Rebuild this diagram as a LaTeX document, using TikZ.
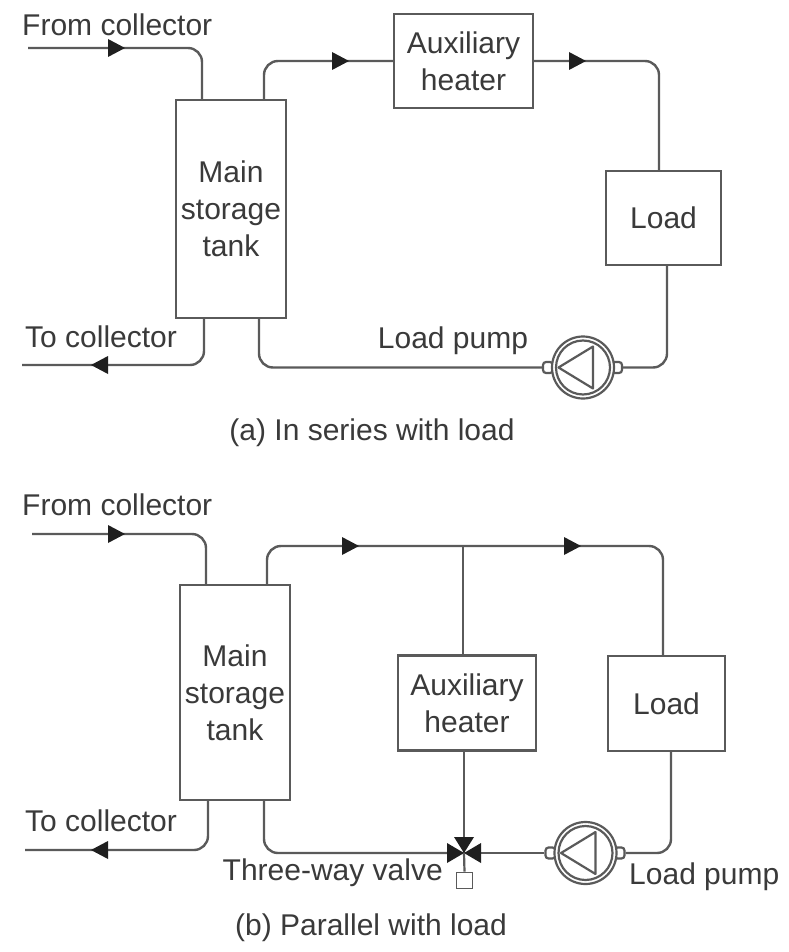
\documentclass[tikz,border=0pt]{standalone}
\usepackage{fontspec}
\setmainfont{Liberation Sans}
\definecolor{ink}{HTML}{3A3A3A}
\definecolor{pipecol}{HTML}{5A5A5A}
\tikzset{
  unit/.style={draw=pipecol,line width=2.4pt,fill=white,inner sep=0pt,align=center,text=ink,font=\fontsize{30}{37}\selectfont},
  pipe/.style={draw=pipecol,line width=2.4pt,rounded corners=14pt},
  lbl/.style={text=ink,inner sep=0pt,font=\fontsize{30}{36}\selectfont},
  flowtip/.style={fill=black!88},
  pumpline/.style={draw=pipecol,line width=2.2pt},
  nub/.style={pumpline,fill=white,rounded corners=3pt,minimum width=10pt,minimum height=11pt,inner sep=0pt},
}
\newcommand{\flowmark}[3]{\fill[flowtip,shift={(#1,#2)},rotate=#3] (9,0)--(-8,9)--(-8,-9)--cycle;}
\newcommand{\pumpsym}[3]{%
  \node[rectangle,nub] (#3l) at (#1-35,#2) {};
  \node[rectangle,nub] (#3r) at (#1+34,#2) {};
  \node[circle,pumpline,fill=white,minimum size=62pt,inner sep=0pt] (#3) at (#1,#2) {};
  \draw[pumpline] (#1,#2) circle[radius=27];
  \draw[pumpline,line join=round] (#1-24.5,#2)--(#1+10,#2-21)--(#1+10,#2+21)--cycle;
}
\begin{document}
\begin{tikzpicture}[x=1pt,y=-1pt]
\useasboundingbox[fill=white] (0,0) rectangle (788,952);
% ---- (a)
\node[unit,minimum width=110pt,minimum height=218pt] (tankA) at (231,209) {Main\\storage\\tank};
\node[unit,minimum width=139pt,minimum height=94pt] (auxA) at (463.5,61) {Auxiliary\\heater};
\node[unit,minimum width=115pt,minimum height=94pt] (loadA) at (663.5,218) {Load};
\pumpsym{583}{367.5}{pumpA}
\coordinate (fromA) at (28,48);
\coordinate (toA) at (22,365);
\draw[pipe] (fromA) -- (202,48) -- (tankA.north -| 202,0);
\draw[pipe] (tankA.north -| 264,0) -- (264,61) -- (auxA.west);
\draw[pipe] (auxA.east) -- (659,61) -- (loadA.north -| 659,0);
\draw[pipe] (loadA.south -| 667,0) -- (667,367.5) -- (pumpAr.east);
\draw[pipe] (pumpAl.west) -- (259,367.5) -- (tankA.south -| 259,0);
\draw[pipe] (tankA.south -| 204,0) -- (204,365) -- (toA);
\flowmark{116}{48}{0}
\flowmark{340}{61}{0}
\flowmark{577}{61}{0}
\flowmark{100}{365}{180}
\node[lbl,anchor=west] (fromAl) at (22,25) {From collector};
\node[lbl,anchor=west] (toAl) at (25,337) {To collector};
\node[lbl] (pumpAlabel) at (453,341) {Load pump};
\node[lbl] (capA) at (372,433) {(a) In series with load};
% ---- (b)
\node[unit,minimum width=110pt,minimum height=215pt] (tankB) at (235,692.5) {Main\\storage\\tank};
\node[unit,minimum width=138pt,minimum height=95pt] (auxB) at (467,703) {Auxiliary\\heater};
\node[unit,minimum width=117pt,minimum height=95pt] (loadB) at (666.5,703.5) {Load};
\pumpsym{585.5}{853}{pumpB}
\coordinate (fromB) at (32,534);
\coordinate (toB) at (25,850);
\coordinate (tee) at (463,546);
\coordinate (valve) at (464,853);
\draw[pipe] (fromB) -- (206,534) -- (tankB.north -| 206,0);
\draw[pipe] (tankB.north -| 267,0) -- (267,546) -- (663,546) -- (loadB.north -| 663,0);
\draw[pipe] (tee) -- (auxB.north -| tee);
\draw[pipe] (auxB.south -| valve) -- (valve);
\draw[pipe] (loadB.south -| 671,0) -- (671,853) -- (pumpBr.east);
\draw[pipe] (pumpBl.west) -- (valve);
\draw[pipe] (tankB.south -| 264,0) -- (264,853) -- (valve);
\draw[pipe] (tankB.south -| 208,0) -- (208,850) -- (toB);
\flowmark{116}{534}{0}
\flowmark{350}{546}{0}
\flowmark{572}{546}{0}
\flowmark{100}{850}{180}
% valve
\fill[flowtip] (valve)--++(-17,-10)--++(0,20)--cycle;
\fill[flowtip] (valve)--++(17,-10)--++(0,20)--cycle;
\fill[flowtip] (valve)--++(-10,-16)--++(20,0)--cycle;
\node[draw=pipecol,line width=1.8pt,fill=white,minimum size=16pt,inner sep=0pt] (actuator) at (464.5,880.5) {};
\draw[pumpline] (valve) -- (actuator.north);
\node[lbl,anchor=west] (fromBl) at (22,505) {From collector};
\node[lbl,anchor=west] (toBl) at (25,821) {To collector};
\node[lbl,anchor=east] (valvel) at (443,873) {Three-way valve};
\node[lbl,anchor=west] (pumpBlabel) at (629,877) {Load pump};
\node[lbl] (capB) at (371,928) {(b) Parallel with load};
\end{tikzpicture}
\end{document}
